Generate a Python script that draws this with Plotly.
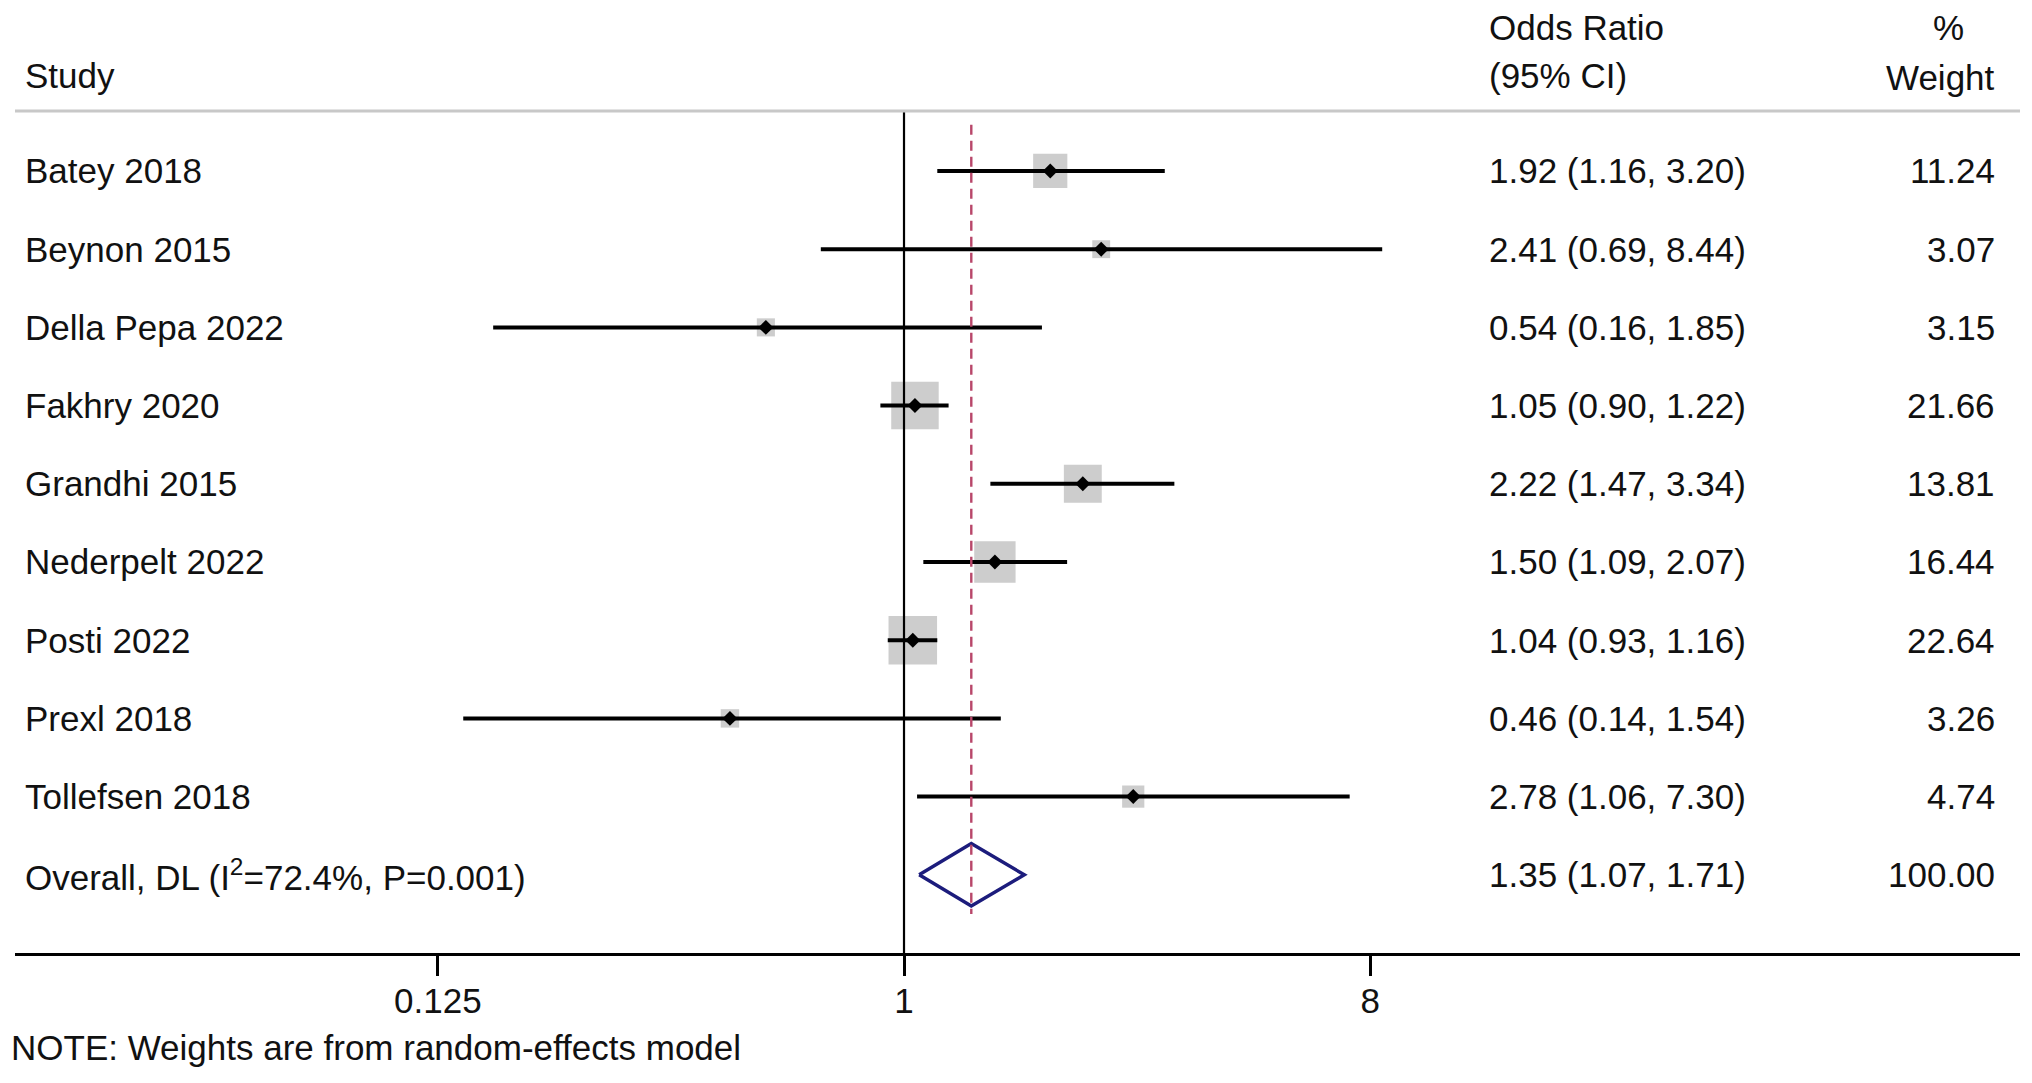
import plotly.graph_objects as go
import math

# ---- data ----
studies = ["Batey 2018", "Beynon 2015", "Della Pepa 2022", "Fakhry 2020", "Grandhi 2015",
           "Nederpelt 2022", "Posti 2022", "Prexl 2018", "Tollefsen 2018"]
odds_ratio = [1.92, 2.41, 0.54, 1.05, 2.22, 1.50, 1.04, 0.46, 2.78]
ci_low = [1.16, 0.69, 0.16, 0.90, 1.47, 1.09, 0.93, 0.14, 1.06]
ci_high = [3.20, 8.44, 1.85, 1.22, 3.34, 2.07, 1.16, 1.54, 7.30]
weights = [11.24, 3.07, 3.15, 21.66, 13.81, 16.44, 22.64, 3.26, 4.74]

overall_label = "Overall, DL (I<sup>2</sup>=72.4%, P=0.001)"
overall_or = 1.35
overall_low = 1.07
overall_high = 1.71
overall_weight = 100.00

tick_vals = [0.125, 1, 8]
tick_text = ["0.125", "1", "8"]

header_study = "Study"
header_or = ["Odds Ratio", "(95% CI)"]
header_w = ["%", "Weight"]
note = "NOTE: Weights are from random-effects model"

# ---- style ----
FONT = "Liberation Sans, Arial, Helvetica, sans-serif"
FS = 35
TXT = "#111111"
rows = list(range(1, len(studies) + 1))
overall_row = len(studies) + 1

fig = go.Figure()

# grey weight boxes
fig.add_trace(go.Scatter(
    x=odds_ratio, y=rows, mode="markers",
    marker=dict(symbol="square", size=[10.2 * math.sqrt(w) for w in weights],
                color="#b8b8b8", line=dict(width=0)),
    hoverinfo="skip", showlegend=False))

# CI lines
cx, cy = [], []
for lo, hi, r in zip(ci_low, ci_high, rows):
    cx += [lo, hi, None]
    cy += [r, r, None]
fig.add_trace(go.Scatter(x=cx, y=cy, mode="lines", line=dict(color="black", width=4),
                         hoverinfo="skip", showlegend=False))

# point estimates
fig.add_trace(go.Scatter(
    x=odds_ratio, y=rows, mode="markers",
    marker=dict(symbol="diamond", size=11.5, color="black", line=dict(width=0)),
    hoverinfo="skip", showlegend=False))

# overall diamond
h = 0.40
fig.add_trace(go.Scatter(
    x=[overall_low, overall_or, overall_high, overall_or, overall_low],
    y=[overall_row, overall_row - h, overall_row, overall_row + h, overall_row],
    mode="lines", line=dict(color="#1c1c7c", width=3.5),
    hoverinfo="skip", showlegend=False))

# page has an 8px body margin; compensate in the ranges/margins
y_top = -1.084
y_bot = 11.0
y_header_line = 0.233

shapes = [
    # null line
    dict(type="line", xref="x", yref="y", x0=1, x1=1, y0=y_header_line, y1=y_bot,
         line=dict(color="black", width=2.2)),
    # overall dashed line
    dict(type="line", xref="x", yref="y", x0=overall_or, x1=overall_or, y0=0.41, y1=10.5,
         line=dict(color="#b8476a", width=2.4, dash="10px,6px")),
    # header rule
    dict(type="line", xref="paper", yref="y", x0=0, x1=1, y0=y_header_line, y1=y_header_line,
         line=dict(color="#c8c8c8", width=3)),
]

ann = []
def add_text(text, x, y, anchor, xref="paper", yref="y"):
    ann.append(dict(text=text, x=x, y=y, xref=xref, yref=yref, xanchor=anchor, yanchor="middle",
                    showarrow=False, borderpad=0,
                    font=dict(family=FONT, size=FS, color=TXT)))

X_STUDY = 0.0045
X_OR = 0.7348
X_W = 0.988
X_PCT = 0.9645

add_text(header_study, X_STUDY, -0.215, "left")
add_text(header_or[0], X_OR, -0.835, "left")
add_text(header_or[1], X_OR, -0.215, "left")
add_text(header_w[0], X_PCT, -0.835, "center")
add_text(header_w[1], X_W, -0.20, "right")

for s, o, lo, hi, w, r in zip(studies, odds_ratio, ci_low, ci_high, weights, rows):
    add_text(s, X_STUDY, r, "left")
    add_text(f"{o:.2f} ({lo:.2f}, {hi:.2f})", X_OR, r, "left")
    add_text(f"{w:.2f}", X_W, r, "right")

add_text(overall_label, X_STUDY, overall_row, "left")
add_text(f"{overall_or:.2f} ({overall_low:.2f}, {overall_high:.2f})", X_OR, overall_row, "left")
add_text(f"{overall_weight:.2f}", X_W, overall_row, "right")

ann.append(dict(text=note, x=-0.0025, y=-0.0995, xref="paper", yref="paper", xanchor="left",
                yanchor="middle", showarrow=False, borderpad=0,
                font=dict(family=FONT, size=FS, color=TXT)))

fig.update_layout(
    width=2032, height=1083,
    margin=dict(l=7, r=20, t=0, b=138),
    paper_bgcolor="white", plot_bgcolor="white",
    showlegend=False,
    shapes=shapes, annotations=ann,
    xaxis=dict(type="log", range=[-1.7222, 2.1619], tickvals=tick_vals, ticktext=tick_text,
               ticks="outside", ticklen=20, tickwidth=2.5, tickcolor="black",
               ticklabelstandoff=-5,
               showline=True, linewidth=3, linecolor="black", showgrid=False, zeroline=False,
               tickfont=dict(family=FONT, size=FS, color=TXT), fixedrange=True),
    yaxis=dict(range=[y_bot, y_top], visible=False, showgrid=False, zeroline=False, fixedrange=True),
)

fig.write_html("out.html")
